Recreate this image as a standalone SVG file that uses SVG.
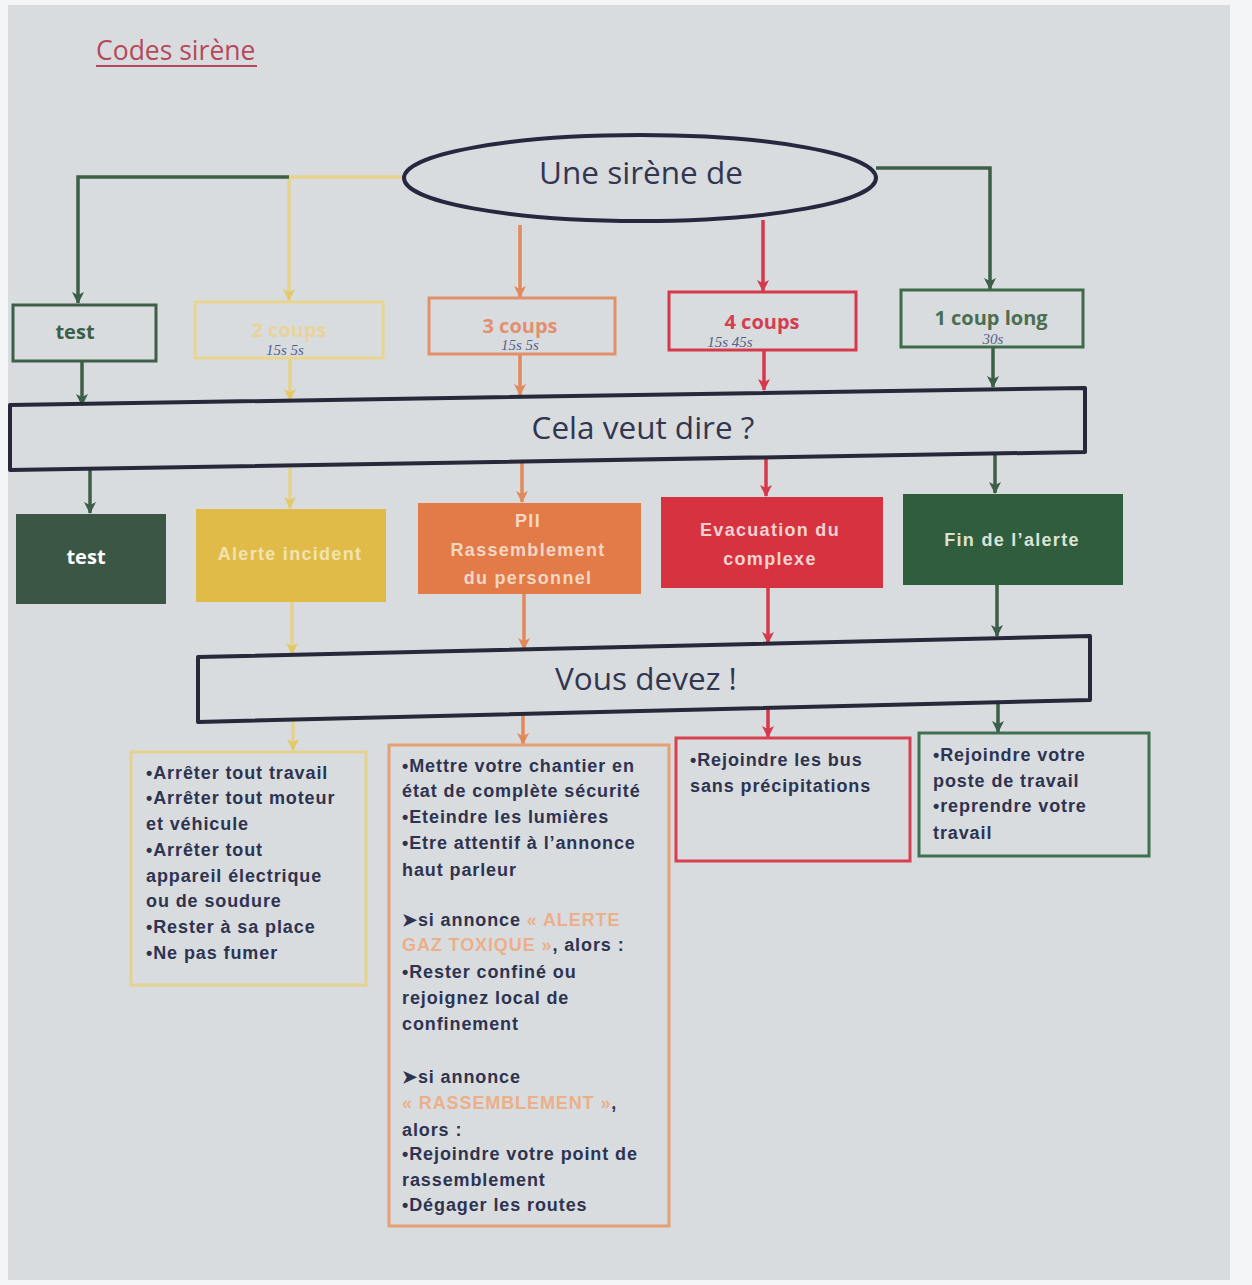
<svg xmlns="http://www.w3.org/2000/svg" width="1252" height="1285" viewBox="0 0 1252 1285">
<style>
.bar{fill:none;stroke:#27283a;stroke-width:4;stroke-linejoin:round}
.barT{font-family:"Open Sans","Liberation Sans",sans-serif;font-size:31.5px;fill:#33364f;text-anchor:middle}
.lst{font-family:"Liberation Sans",Arial,sans-serif;font-size:18px;font-weight:bold;fill:#2e3350;letter-spacing:0.9px}
.hw{font-family:"Liberation Serif",serif;font-style:italic;font-size:15px;fill:#55608a;text-anchor:middle}
.box{fill:none;stroke-width:3}
.ft{font-family:"Open Sans","Liberation Sans",sans-serif;font-weight:700;text-anchor:middle;font-size:20px}
.fb{font-family:"Liberation Sans",Arial,sans-serif;font-weight:bold;text-anchor:middle;font-size:18px;letter-spacing:1.3px}
.pale{fill:#eab08a}
.cg{stroke:#3d5e47}.cy{stroke:#e6d28a}.co{stroke:#e2895c}.cr{stroke:#d6394b}
.ln{fill:none;stroke-width:3.5}
</style>
<defs>
<marker id="ag" viewBox="0 0 12 12" refX="11" refY="6" markerWidth="12" markerHeight="12" markerUnits="userSpaceOnUse" orient="auto"><path d="M0,0 L12,6 L0,12 L3,6 Z" fill="#3d5e47"/></marker>
<marker id="ay" viewBox="0 0 12 12" refX="11" refY="6" markerWidth="12" markerHeight="12" markerUnits="userSpaceOnUse" orient="auto"><path d="M0,0 L12,6 L0,12 L3,6 Z" fill="#e3c968"/></marker>
<marker id="ao" viewBox="0 0 12 12" refX="11" refY="6" markerWidth="12" markerHeight="12" markerUnits="userSpaceOnUse" orient="auto"><path d="M0,0 L12,6 L0,12 L3,6 Z" fill="#e2895c"/></marker>
<marker id="ar" viewBox="0 0 12 12" refX="11" refY="6" markerWidth="12" markerHeight="12" markerUnits="userSpaceOnUse" orient="auto"><path d="M0,0 L12,6 L0,12 L3,6 Z" fill="#d6394b"/></marker>
</defs>
<rect width="1252" height="1285" fill="#f4f5f6"/>
<rect x="8" y="5" width="1222" height="1275" fill="#d9dcdf"/>

<g id="title">
<text x="96" y="60" font-family="'Open Sans','Liberation Sans',sans-serif" font-size="26.5" fill="#b5495a">Codes sirène</text>
<line x1="96" y1="66" x2="257" y2="66" stroke="#b5495a" stroke-width="2"/>
</g>

<g id="connectors">
<polyline class="ln cy" points="403,177 289,177 289,300" marker-end="url(#ay)"/>
<polyline class="ln cg" points="289,177 78,177 78,303" marker-end="url(#ag)"/>
<line class="ln co" x1="520" y1="225" x2="520" y2="297" marker-end="url(#ao)"/>
<line class="ln cr" x1="763" y1="220" x2="763" y2="291" marker-end="url(#ar)"/>
<polyline class="ln cg" points="876,168 990,168 990,289" marker-end="url(#ag)"/>

<line class="ln cg" x1="82" y1="361" x2="82" y2="405" marker-end="url(#ag)"/>
<line class="ln cy" x1="290" y1="358" x2="290" y2="400" marker-end="url(#ay)"/>
<line class="ln co" x1="520" y1="354" x2="520" y2="395" marker-end="url(#ao)"/>
<line class="ln cr" x1="764" y1="350" x2="764" y2="390" marker-end="url(#ar)"/>
<line class="ln cg" x1="993" y1="347" x2="993" y2="387" marker-end="url(#ag)"/>

<line class="ln cg" x1="90" y1="470" x2="90" y2="513" marker-end="url(#ag)"/>
<line class="ln cy" x1="290" y1="468" x2="290" y2="508" marker-end="url(#ay)"/>
<line class="ln co" x1="522" y1="462" x2="522" y2="502" marker-end="url(#ao)"/>
<line class="ln cr" x1="766" y1="458" x2="766" y2="496" marker-end="url(#ar)"/>
<line class="ln cg" x1="995" y1="452" x2="995" y2="493" marker-end="url(#ag)"/>

<line class="ln cy" x1="292" y1="602" x2="292" y2="654" marker-end="url(#ay)"/>
<line class="ln co" x1="524" y1="594" x2="524" y2="649" marker-end="url(#ao)"/>
<line class="ln cr" x1="768" y1="588" x2="768" y2="643" marker-end="url(#ar)"/>
<line class="ln cg" x1="997" y1="585" x2="997" y2="636" marker-end="url(#ag)"/>

<line class="ln cy" x1="293" y1="721" x2="293" y2="750" marker-end="url(#ay)"/>
<line class="ln co" x1="523" y1="716" x2="523" y2="744" marker-end="url(#ao)"/>
<line class="ln cr" x1="768" y1="709" x2="768" y2="737" marker-end="url(#ar)"/>
<line class="ln cg" x1="998" y1="702" x2="998" y2="732" marker-end="url(#ag)"/>
</g>

<g id="sirene">
<ellipse cx="640" cy="178" rx="236" ry="43" fill="none" stroke="#26283f" stroke-width="4"/>
<text x="641" y="184" class="barT">Une sirène de</text>
</g>

<g id="n-test1">
<rect x="13" y="305" width="143" height="56" class="box" stroke="#3d5e47"/>
<text x="75" y="339" class="ft" font-size="22" fill="#3d5e47">test</text>
</g>
<g id="n-2coups">
<rect x="195" y="302" width="188" height="56" class="box" stroke="#e8d690"/>
<text x="289" y="337" class="ft" fill="#e8d49a">2 coups</text>
<text x="285" y="355" class="hw">15s 5s</text>
</g>
<g id="n-3coups">
<rect x="429" y="298" width="186" height="56" class="box" stroke="#e2906a"/>
<text x="520" y="333" class="ft" fill="#e2906e">3 coups</text>
<text x="520" y="350" class="hw">15s 5s</text>
</g>
<g id="n-4coups">
<rect x="669" y="292" width="187" height="58" class="box" stroke="#d6394b"/>
<text x="762" y="329" class="ft" fill="#d43e50">4 coups</text>
<text x="730" y="347" class="hw">15s 45s</text>
</g>
<g id="n-1coup">
<rect x="901" y="290" width="182" height="57" class="box" stroke="#3f6a4a"/>
<text x="991" y="325" class="ft" fill="#4a6e52">1 coup long</text>
<text x="993" y="344" class="hw">30s</text>
</g>

<g id="n-cela">
<polygon class="bar" points="10,405 1085,388 1085,452 10,470"/>
<text x="643" y="439" class="barT">Cela veut dire ?</text>
</g>

<g id="n-test2">
<rect x="16" y="514" width="150" height="90" fill="#3b5644"/>
<text x="86" y="564" class="ft" font-size="23" fill="#ffffff">test</text>
</g>
<g id="n-alerte">
<rect x="196" y="509" width="190" height="93" fill="#e1bb48"/>
<text x="290" y="560" class="fb" fill="#f2e2b2">Alerte incident</text>
</g>
<g id="n-pii">
<rect x="418" y="503" width="223" height="91" fill="#e27b48"/>
<text x="528" y="527" class="fb" fill="#f4d6c4">PII</text>
<text x="528" y="556" class="fb" fill="#f4d6c4">Rassemblement</text>
<text x="528" y="584" class="fb" fill="#f4d6c4">du personnel</text>
</g>
<g id="n-evac">
<rect x="661" y="497" width="222" height="91" fill="#d7323f"/>
<text x="770" y="536" class="fb" fill="#f2d2d2">Evacuation du</text>
<text x="770" y="565" class="fb" fill="#f2d2d2">complexe</text>
</g>
<g id="n-fin">
<rect x="903" y="494" width="220" height="91" fill="#2f5d3d"/>
<text x="1012" y="546" class="fb" fill="#dbe3d4">Fin de l’alerte</text>
</g>

<g id="n-vous">
<polygon class="bar" points="198,657 1090,636 1090,700 198,722"/>
<text x="646" y="690" class="barT">Vous devez !</text>
</g>

<g id="n-list1">
<rect x="131" y="752" width="235" height="233" class="box" stroke="#e4d28c"/>
<text class="lst">
<tspan x="146" y="779">•Arrêter tout travail</tspan>
<tspan x="146" y="804">•Arrêter tout moteur</tspan>
<tspan x="146" y="830">et véhicule</tspan>
<tspan x="146" y="856">•Arrêter tout</tspan>
<tspan x="146" y="882">appareil électrique</tspan>
<tspan x="146" y="907">ou de soudure</tspan>
<tspan x="146" y="933">•Rester à sa place</tspan>
<tspan x="146" y="959">•Ne pas fumer</tspan>
</text>
</g>

<g id="n-list2">
<rect x="389" y="745" width="280" height="481" class="box" stroke="#e3a072"/>
<text class="lst">
<tspan x="402" y="772">•Mettre votre chantier en</tspan>
<tspan x="402" y="797">état de complète sécurité</tspan>
<tspan x="402" y="823">•Eteindre les lumières</tspan>
<tspan x="402" y="849">•Etre attentif à l’annonce</tspan>
<tspan x="402" y="876">haut parleur</tspan>
<tspan x="402" y="926">➤si annonce <tspan class="pale">« ALERTE</tspan></tspan>
<tspan x="402" y="951"><tspan class="pale">GAZ TOXIQUE »</tspan>, alors :</tspan>
<tspan x="402" y="978">•Rester confiné ou</tspan>
<tspan x="402" y="1004">rejoignez local de</tspan>
<tspan x="402" y="1030">confinement</tspan>
<tspan x="402" y="1083">➤si annonce</tspan>
<tspan x="402" y="1109"><tspan class="pale">« RASSEMBLEMENT »</tspan>,</tspan>
<tspan x="402" y="1136">alors :</tspan>
<tspan x="402" y="1160">•Rejoindre votre point de</tspan>
<tspan x="402" y="1186">rassemblement</tspan>
<tspan x="402" y="1211">•Dégager les routes</tspan>
</text>
</g>

<g id="n-list3">
<rect x="676" y="738" width="234" height="123" class="box" stroke="#d8404f"/>
<text class="lst">
<tspan x="690" y="766">•Rejoindre les bus</tspan>
<tspan x="690" y="792">sans précipitations</tspan>
</text>
</g>

<g id="n-list4">
<rect x="919" y="733" width="230" height="123" class="box" stroke="#3f7050"/>
<text class="lst">
<tspan x="933" y="761">•Rejoindre votre</tspan>
<tspan x="933" y="787">poste de travail</tspan>
<tspan x="933" y="812">•reprendre votre</tspan>
<tspan x="933" y="839">travail</tspan>
</text>
</g>
</svg>
